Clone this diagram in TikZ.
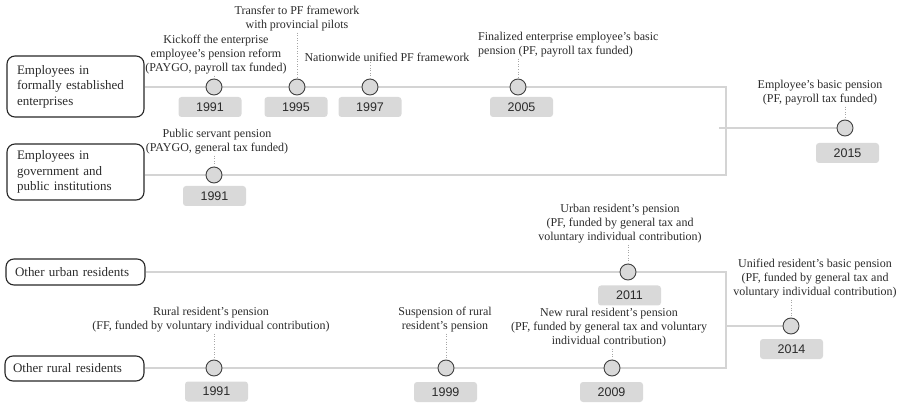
\documentclass[tikz,border=0pt]{standalone}
\usepackage{fontspec}
\setmainfont{Liberation Serif}
\newfontfamily\yearfont{Liberation Sans}
\usetikzlibrary{backgrounds}
\definecolor{txt}{HTML}{2B2B2B}
\definecolor{tlgray}{HTML}{D4D4D4}
\definecolor{boxgray}{HTML}{D9D9D9}
\begin{document}
\begin{tikzpicture}[x=1pt,y=-1pt,
  grp/.style={draw=black!85, line width=1.1pt, rounded corners=8pt, text width=117pt, inner xsep=10pt, align=left, font=\fontsize{13}{15.5}\selectfont, text=txt},
  evt/.style={circle, draw=black!75, fill=boxgray, line width=0.9pt, minimum size=16pt, inner sep=0pt},
  yr/.style={fill=boxgray, rounded corners=3pt, minimum width=63pt, minimum height=20pt, inner sep=0pt, font=\yearfont\fontsize{12.5}{14}\selectfont, text=txt},
  lbl/.style={align=center, font=\fontsize{12}{14}\selectfont, text=txt, inner sep=1pt},
  tl/.style={draw=tlgray, line width=1.5pt},
  vlink/.style={draw=gray!70, dotted, line width=0.6pt}
]
\useasboundingbox (0,0) rectangle (902,403);

% group boxes
\node[grp, minimum height=61pt] (b1) at (75.5,86.5) {Employees in\\formally established\\enterprises};
\node[grp, minimum height=56pt] (b2) at (75.5,172) {Employees in\\government and\\public institutions};
\node[grp, minimum height=26pt, inner xsep=9pt, text width=121pt] (b3) at (75.5,272) {Other urban residents};
\node[grp, minimum height=25pt, inner xsep=8pt, text width=123pt] (b4) at (74.5,368.5) {Other rural residents};

% junction coordinates
\coordinate (j1) at (726,87);
\coordinate (j2) at (726,175);
\coordinate (jm) at (719,128);
\coordinate (j3) at (726,272);
\coordinate (j4) at (726,368);
\coordinate (jn) at (726,326);

% event circles
\node[evt] (e91) at (214,87) {};
\node[evt] (e95) at (297,87) {};
\node[evt] (e97) at (370,87) {};
\node[evt] (e05) at (518,87) {};
\node[evt] (e15) at (845,128) {};
\node[evt] (p91) at (214,175) {};
\node[evt] (u11) at (628,272) {};
\node[evt] (u14) at (791,326) {};
\node[evt] (r91) at (214,368) {};
\node[evt] (r99) at (446,368) {};
\node[evt] (r09) at (612,368) {};

% timelines
\begin{scope}[on background layer]
\draw[tl] (b1.east |- j1) -- (j1) -- (j2) -- (b2.east |- j2);
\draw[tl] (jm) -- (e15);
\draw[tl] (b3.east |- j3) -- (j3) -- (j4) -- (b4.east |- j4);
\draw[tl] (jn) -- (u14);
\end{scope}

% year boxes
\node[yr] (y91) at (210,107) {1991};
\node[yr] (y95) at (296,107) {1995};
\node[yr] (y97) at (370,107) {1997};
\node[yr] (y05) at (521.5,107) {2005};
\node[yr] (y15) at (847.5,153) {2015};
\node[yr] (yp91) at (214.5,196) {1991};
\node[yr] (yu11) at (629.5,295.5) {2011};
\node[yr] (yu14) at (791.5,349) {2014};
\node[yr] (yr91) at (216.5,391.5) {1991};
\node[yr] (yr99) at (445.5,392) {1999};
\node[yr] (yr09) at (611.5,392) {2009};

% labels
\node[lbl] (l91) at (216,55) {Kickoff the enterprise\\employee's pension reform\\(PAYGO, payroll tax funded)};
\node[lbl] (l95) at (297,19) {Transfer to PF framework\\with provincial pilots};
\node[lbl] (l97) at (387,57) {Nationwide unified PF framework};
\node[lbl, align=left, anchor=west] (l05) at (477,45) {Finalized enterprise employee's basic\\pension (PF, payroll tax funded)};
\node[lbl] (l15) at (820,93) {Employee's basic pension\\(PF, payroll tax funded)};
\node[lbl] (lp91) at (217,142) {Public servant pension\\(PAYGO, general tax funded)};
\node[lbl] (lu11) at (620,224) {Urban resident's pension\\(PF, funded by general tax and\\voluntary individual contribution)};
\node[lbl] (lu14) at (815,279) {Unified resident's basic pension\\(PF, funded by general tax and\\voluntary individual contribution)};
\node[lbl] (lr91) at (211,320) {Rural resident's pension\\(FF, funded by voluntary individual contribution)};
\node[lbl] (lr99) at (445,320) {Suspension of rural\\resident's pension};
\node[lbl] (lr09) at (609,328) {New rural resident's pension\\(PF, funded by general tax and voluntary\\individual contribution)};

% dotted links
\draw[vlink] (e91 |- l91.south) -- (e91.north);
\draw[vlink] (e95 |- l95.south) -- (e95.north);
\draw[vlink] (e97 |- l97.south) -- (e97.north);
\draw[vlink] (e05 |- l05.south) -- (e05.north);
\draw[vlink] (e15 |- l15.south) -- (e15.north);
\draw[vlink] (p91 |- lp91.south) -- (p91.north);
\draw[vlink] (u11 |- lu11.south) -- (u11.north);
\draw[vlink] (u14 |- lu14.south) -- (u14.north);
\draw[vlink] (r91 |- lr91.south) -- (r91.north);
\draw[vlink] (r99 |- lr99.south) -- (r99.north);
\draw[vlink] (r09 |- lr09.south) -- (r09.north);
\end{tikzpicture}
\end{document}
